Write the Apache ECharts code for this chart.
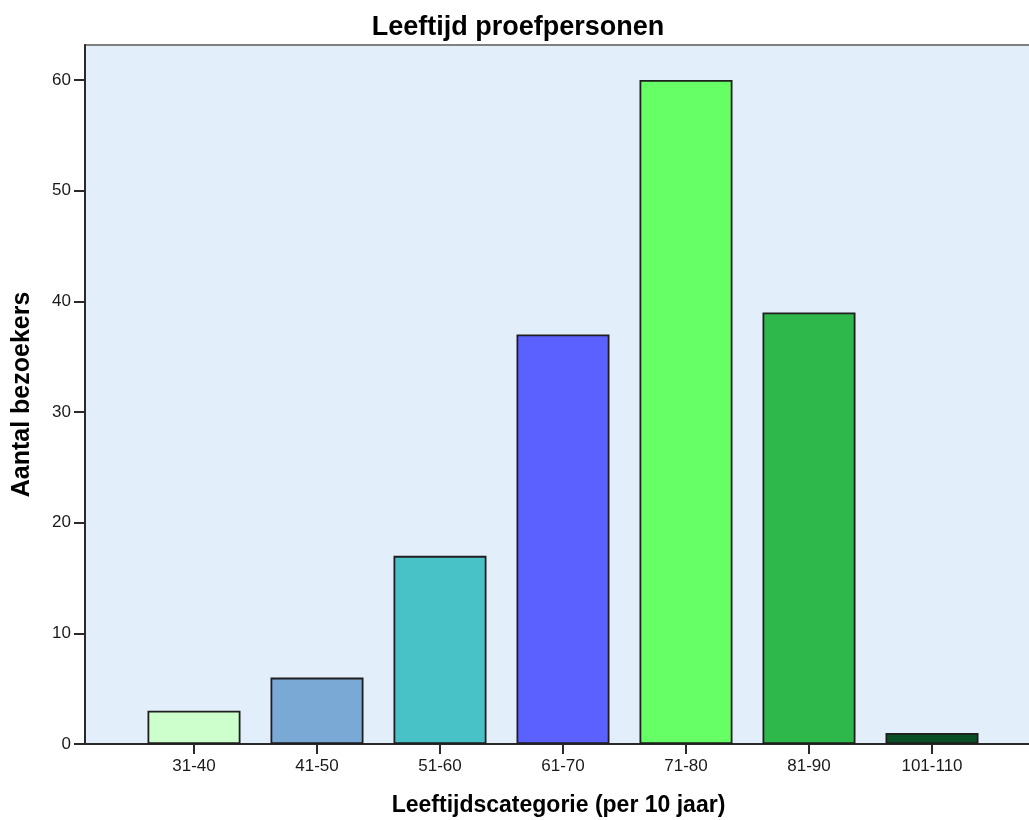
<!DOCTYPE html>
<html>
<head>
<meta charset="utf-8">
<script src="https://cdn.jsdelivr.net/npm/echarts@6/dist/echarts.min.js"></script>
<style>
html,body{margin:0;padding:0;background:#fff;}
#chart{width:1029px;height:820px;}
</style>
</head>
<body>
<div id="chart"></div>
<script>
// ---- data ----
const categories = ['31-40','41-50','51-60','61-70','71-80','81-90','101-110'];
const counts = [3, 6, 17, 37, 60, 39, 1];
const barColors = ['#CCFFCC','#7BA9D6','#48C2C6','#5B61FF','#66FF66','#2EB84B','#0B4F27'];
const yTicks = [0, 10, 20, 30, 40, 50, 60];
const titleText = 'Leeftijd proefpersonen';
const xName = 'Leeftijdscategorie (per 10 jaar)';
const yName = 'Aantal bezoekers';

// ---- layout ----
const gridLeft = 85, gridTop = 45, gridBottom = 76, gridRight = -3;
const pxPerUnit = 123;            // distance between category centres
const firstCentre = 194;          // pixel x of first category centre
const gridWidth = 1029 - gridRight - gridLeft;
const xMin = 1 - (firstCentre - gridLeft) / pxPerUnit;
const xMax = xMin + gridWidth / pxPerUnit;
const catPos = categories.map((c, i) => i + 1);

const font = '"Liberation Sans", Arial, sans-serif';
const chart = echarts.init(document.getElementById('chart'), null, {renderer: 'canvas'});
chart.setOption({
  animation: false,
  backgroundColor: '#ffffff',
  graphic: [
    {type: 'text', style: {x: 518, y: 28, text: titleText, font: 'bold 27px ' + font, fill: '#000', align: 'center', verticalAlign: 'middle'}},
  ],
  grid: {
    left: gridLeft, top: gridTop, right: gridRight, bottom: gridBottom,
    show: true, backgroundColor: '#E3EEFB', borderColor: '#808080', borderWidth: 2,
    containLabel: false, outerBoundsMode: 'none'
  },
  xAxis: {
    type: 'value', min: xMin, max: xMax,
    name: xName, nameLocation: 'middle', nameGap: 50,
    nameTextStyle: {fontFamily: font, fontWeight: 'bold', fontSize: 23, color: '#000'},
    splitLine: {show: false},
    axisLine: {show: true, lineStyle: {color: '#2a2a2a', width: 2}},
    axisTick: {show: true, length: 10, lineStyle: {color: '#2a2a2a', width: 2}, customValues: catPos},
    axisLabel: {
      customValues: catPos, margin: 14, fontFamily: font, fontSize: 17, color: '#1a1a1a',
      formatter: v => categories[Math.round(v) - 1] || ''
    }
  },
  yAxis: {
    type: 'value', min: 0, max: (744 - 45) / ((744 - 80) / 60),
    name: yName, nameLocation: 'middle', nameGap: 50, nameRotate: 90,
    nameTextStyle: {fontFamily: font, fontWeight: 'bold', fontSize: 25, color: '#000'},
    splitLine: {show: false},
    axisLine: {show: true, lineStyle: {color: '#2a2a2a', width: 2}},
    axisTick: {show: true, length: 11, lineStyle: {color: '#2a2a2a', width: 2}, customValues: yTicks},
    axisLabel: {customValues: yTicks, margin: 14, fontFamily: font, fontSize: 17, color: '#1a1a1a'}
  },
  series: [{
    type: 'bar',
    barWidth: 93,
    data: counts.map((v, i) => ({
      value: [catPos[i], v],
      itemStyle: {color: barColors[i], borderColor: '#1e1e1e', borderWidth: 1.8}
    }))
  }]
});
</script>
</body>
</html>
